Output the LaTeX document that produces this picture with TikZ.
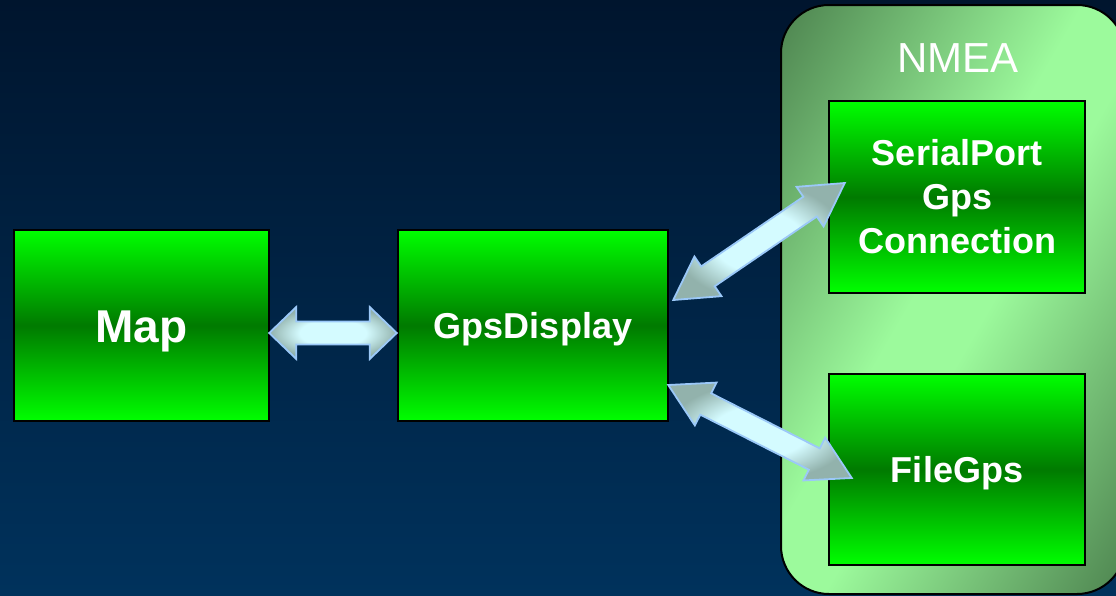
\documentclass[tikz,border=0pt]{standalone}
\usepackage{fontspec}
\setmainfont{Liberation Sans}
\usetikzlibrary{calc}

\definecolor{bgtop}{RGB}{0,21,46}
\definecolor{bgbot}{RGB}{0,50,92}
\definecolor{boxlight}{RGB}{0,255,0}
\definecolor{boxdark}{RGB}{0,122,0}
\definecolor{groupdark}{RGB}{78,132,80}
\definecolor{grouplight}{RGB}{156,250,156}
\definecolor{arrowfill}{RGB}{212,251,255}
\definecolor{arrowedge}{RGB}{146,178,172}
\definecolor{arrowline}{RGB}{155,200,248}

% diagonal band: dark corners, light middle
\pgfdeclarehorizontalshading{nmeashade}{100bp}{%
  color(0bp)=(groupdark); color(25bp)=(groupdark);
  color(47bp)=(grouplight); color(53bp)=(grouplight);
  color(75bp)=(groupdark); color(100bp)=(groupdark)}
% glassy fill of the link arrows
\pgfdeclareradialshading{linkshade}{\pgfpoint{0bp}{0bp}}{%
  color(0bp)=(arrowfill); color(13bp)=(arrowfill);
  color(25bp)=(arrowedge); color(50bp)=(arrowedge)}

% block arrow with a head at both ends:
% #1 start, #2 end, #3 head length, #4 half head width, #5 half shaft width
\newcommand\blockdoublearrow[5]{%
  \draw[linkarrow] (#1)
    -- ($(#1)!#3!(#2)!#4!90:(#2)$)
    -- ($(#1)!#3!(#2)!#5!90:(#2)$)
    -- ($(#2)!#3!(#1)!#5!-90:(#1)$)
    -- ($(#2)!#3!(#1)!#4!-90:(#1)$)
    -- (#2)
    -- ($(#2)!#3!(#1)!#4!90:(#1)$)
    -- ($(#2)!#3!(#1)!#5!90:(#1)$)
    -- ($(#1)!#3!(#2)!#5!-90:(#2)$)
    -- ($(#1)!#3!(#2)!#4!-90:(#2)$)
    -- cycle;}

\tikzset{
  module/.style={draw=black, line width=2.5pt, top color=boxlight,
    bottom color=boxlight, middle color=boxdark, text=white,
    font=\bfseries\fontsize{36}{44}\selectfont, align=center,
    inner sep=0pt},
  oneline/.style={text height=25.8pt, text depth=0pt},
  group/.style={draw=black, line width=2pt, rounded corners=48pt, inner sep=0pt},
  linkarrow/.style={draw=arrowline, line width=1.8pt, line join=miter,
    shading=linkshade},
}

\begin{document}
\begin{tikzpicture}[x=1pt, y=-1pt]
  \clip (0,0) rectangle (1116,595);
  \fill[top color=bgtop, bottom color=bgbot] (0,0) rectangle (1116,595);

  % NMEA group
  \node[group, minimum width=342pt, minimum height=587pt] (nmea) at (953,299.5) {};
  \begin{scope}
    \clip[rounded corners=48pt] (nmea.north west) rectangle (nmea.south east);
    \shade[shading=nmeashade, shading angle=-30]
      ($(nmea.center)+(-295,-295)$) rectangle ($(nmea.center)+(295,295)$);
  \end{scope}
  \draw[black, line width=2pt, rounded corners=48pt]
    (nmea.north west) rectangle (nmea.south east);
  \node[text=white, font=\fontsize{42}{48}\selectfont] (nmealabel) at (958,58) {NMEA};

  % modules
  \node[module, minimum width=255pt, minimum height=191pt,
        font=\bfseries\fontsize{46}{52}\selectfont,
        text height=33pt, text depth=0pt] (map) at (141.5,325.5) {Map};
  \node[module, oneline, minimum width=270pt, minimum height=191pt] (gps) at (533,325.5) {GpsDisplay};
  \node[module, minimum width=256pt, minimum height=192pt] (serial) at (957,197)
        {SerialPort\\Gps\\Connection};
  \node[module, oneline, minimum width=256pt, minimum height=191pt] (file) at (957,469.5) {FileGps};

  % connection end points
  \coordinate (m1) at ($(map.east)+(-1,7.5)$);
  \coordinate (g1) at ($(gps.west)+(0,7.5)$);
  \coordinate (g2) at ($(gps.east)+(4,-25.5)$);
  \coordinate (s2) at ($(serial.west)+(17,-14)$);
  \coordinate (g3) at ($(gps.east)+(-1,59.5)$);
  \coordinate (f3) at ($(file.west)+(24,8.5)$);

  % links
  \blockdoublearrow{m1}{g1}{27pt}{26pt}{11.5pt}
  \blockdoublearrow{g2}{s2}{42pt}{24pt}{12pt}
  \blockdoublearrow{g3}{f3}{42pt}{24pt}{12pt}
\end{tikzpicture}
\end{document}
